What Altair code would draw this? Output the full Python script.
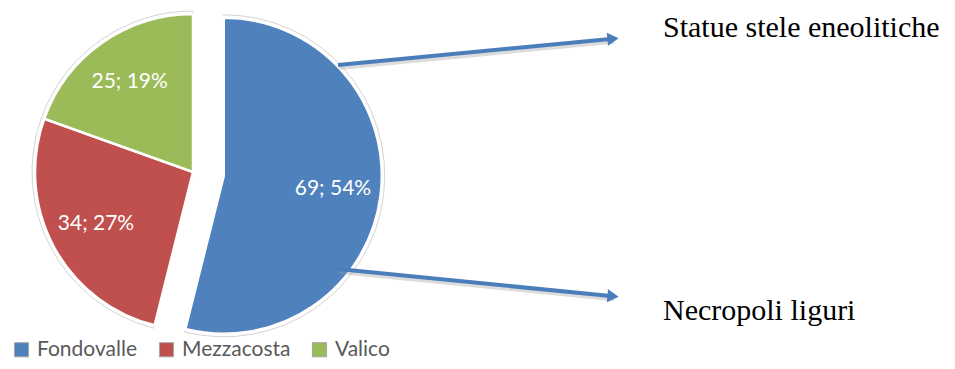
import altair as alt
import pandas as pd

# ---- data ----
categories = ["Fondovalle", "Mezzacosta", "Valico"]
values = [69, 34, 25]
labels = ["69; 54%", "34; 27%", "25; 19%"]
explode = [31, 0, 0]          # px the slice is pulled out
colors = ["#4f81bd", "#c0504d", "#9bbb59"]

# annotations (text + arrows), in chart pixels
notes = ["Statue stele eneolitiche", "Necropoli liguri"]
note_x = [655, 655]
note_y = [29, 312]
arrow_x1 = [330, 330]
arrow_y1 = [57, 261]
arrow_x2 = [612, 612]
arrow_y2 = [30, 289]

# pie geometry
CX, CY, R, LR = 185, 164, 158, 110

pie = pd.DataFrame({
    "category": categories,
    "value": values,
    "label": labels,
    "explode": explode,
    "order": list(range(len(categories))),
})
arrows = pd.DataFrame({"x1": arrow_x1, "y1": arrow_y1, "x2": arrow_x2, "y2": arrow_y2})
texts = pd.DataFrame({"text": notes, "x": note_x, "y": note_y})

base = alt.Chart(pie).transform_joinaggregate(
    total="sum(value)"
).transform_window(
    cum="sum(value)", sort=[alt.SortField("order")], frame=[None, 0]
).transform_calculate(
    start="(datum.cum - datum.value) / datum.total * 2 * PI",
    end="datum.cum / datum.total * 2 * PI",
).transform_calculate(
    mid="(datum.start + datum.end) / 2",
).transform_calculate(
    cx=f"{CX} + datum.explode * sin(datum.mid)",
    cy=f"{CY} - datum.explode * cos(datum.mid)",
).transform_calculate(
    lx=f"datum.cx + {LR} * sin(datum.mid)",
    ly=f"datum.cy - {LR} * cos(datum.mid)",
)

pos = dict(
    x=alt.X("cx:Q", scale=None, axis=None),
    y=alt.Y("cy:Q", scale=None, axis=None),
    theta=alt.Theta("start:Q", scale=None, stack=None),
    theta2=alt.Theta2("end:Q"),
)

outline = base.mark_arc(radius=R + 3, fill="white", stroke="#d4d4d4", strokeWidth=1).encode(**pos)

slices = base.mark_arc(radius=R, stroke="white", strokeWidth=2.5).encode(
    color=alt.Color(
        "category:N",
        scale=alt.Scale(domain=categories, range=colors),
        legend=alt.Legend(
            orient="none", legendX=3, legendY=331, direction="horizontal",
            title=None, symbolType="square", symbolSize=200,
            symbolStrokeColor="#a6a6a6", symbolStrokeWidth=1,
            labelFont="Lato", labelFontSize=21, labelColor="#595959",
            columnPadding=18, labelOffset=5,
        ),
    ),
    **pos,
)

slice_labels = base.mark_text(
    font="Lato", fontSize=21, color="white", align="center", baseline="middle"
).encode(
    x=alt.X("lx:Q", scale=None, axis=None),
    y=alt.Y("ly:Q", scale=None, axis=None),
    text="label:N",
)

arr = alt.Chart(arrows).transform_calculate(
    a="atan2(datum.y2 - datum.y1, datum.x2 - datum.x1)",
).transform_calculate(
    hx="datum.x2 - 7 * cos(datum.a)",
    hy="datum.y2 - 7 * sin(datum.a)",
    deg="(datum.a * 180 / PI + 360) % 360",
)

shaft_shadow = arr.mark_rule(strokeWidth=4, color="#9a9a9a", opacity=0.35).encode(
    x=alt.X("sx1:Q", scale=None, axis=None),
    y=alt.Y("sy1:Q", scale=None, axis=None),
    x2="sx2:Q",
    y2="sy2:Q",
).transform_calculate(
    sx1="datum.x1 + 1", sy1="datum.y1 + 3", sx2="datum.hx + 1", sy2="datum.hy + 3"
)

shaft = arr.mark_rule(strokeWidth=4, color="#4a7ebb").encode(
    x=alt.X("x1:Q", scale=None, axis=None),
    y=alt.Y("y1:Q", scale=None, axis=None),
    x2="hx:Q",
    y2="hy:Q",
)

head = arr.mark_point(shape="triangle-right", filled=True, size=170, color="#4a7ebb", opacity=1).encode(
    x=alt.X("hx:Q", scale=None, axis=None),
    y=alt.Y("hy:Q", scale=None, axis=None),
    angle=alt.Angle("deg:Q", scale=None),
)

note_text = alt.Chart(texts).mark_text(
    font="Liberation Serif", fontSize=30, color="black", align="left", baseline="alphabetic"
).encode(
    x=alt.X("x:Q", scale=None, axis=None),
    y=alt.Y("y:Q", scale=None, axis=None),
    text="text:N",
)

chart = alt.layer(
    outline, slices, slice_labels, shaft_shadow, shaft, head, note_text
).properties(
    width=939, height=353,
    autosize=alt.AutoSizeParams(type="none"),
    padding=0,
    background="white",
).configure_view(strokeWidth=0, stroke="transparent")

chart.save("out.html", embed_options={"renderer": "svg", "actions": False})
